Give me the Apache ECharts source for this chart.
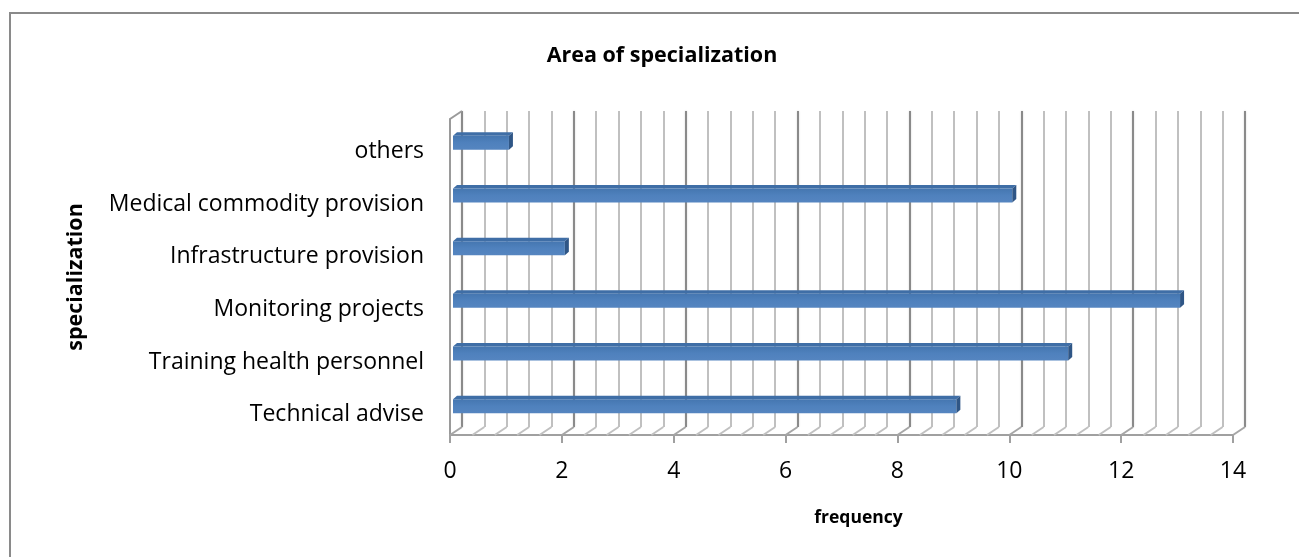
<!DOCTYPE html>
<html>
<head>
<meta charset="utf-8">
<script src="https://cdn.jsdelivr.net/npm/echarts@6/dist/echarts.min.js"></script>
<style>
  html, body { margin: 0; padding: 0; background: #fff; }
  #chart { position: absolute; left: 0; top: 0; width: 1299px; height: 557px; }
  #frame { position: absolute; left: 9px; top: 12px; right: -10px; bottom: -10px;
           border-left: 2px solid #8a8a8a; border-top: 2px solid #8a8a8a; pointer-events: none; }
</style>
</head>
<body>
<div id="chart"></div>
<div id="frame"></div>
<script>
// Categories listed bottom to top, as on the vertical axis
const categories = [
  'Technical advise',
  'Training health personnel',
  'Monitoring projects',
  'Infrastructure provision',
  'Medical commodity provision',
  'others'
];
const frequency = [9, 11, 13, 2, 10, 1];

// Value axis range and tick spacing
const xMin = 0;
const xMax = 14;
const xInterval = 2;
const minorSplit = 5;

const FONT = 'Open Sans';

// depth of the 3D box (back wall offset) and bar offsets
const DEPTH_X = 12, DEPTH_Y = -8;
const BAR_H = 14, BAR_OX = 3, BAR_OY = -2.5, BAR_DX = 4, BAR_DY = -3.5;

const chart = echarts.init(document.getElementById('chart'), null, { renderer: 'canvas' });

// floor slants and top-left wall edge of the 3D box
function renderFrame(params, api) {
  const cs = params.coordSys;
  const bottom = cs.y + cs.height;
  const step = xInterval / minorSplit;
  const children = [];
  const n = Math.round((xMax - xMin) / step);
  for (let k = 0; k <= n; k++) {
    const v = xMin + k * step;
    const x = api.coord([v, 0])[0];
    const major = k % minorSplit === 0;
    children.push({
      type: 'line',
      shape: { x1: x, y1: bottom, x2: x + DEPTH_X, y2: bottom + DEPTH_Y },
      style: { stroke: major ? '#a6a6a6' : '#c0c0c0', lineWidth: 2 }
    });
  }
  children.push({
    type: 'line',
    shape: { x1: cs.x, y1: cs.y, x2: cs.x + DEPTH_X, y2: cs.y + DEPTH_Y },
    style: { stroke: '#9a9a9a', lineWidth: 2 }
  });
  return { type: 'group', children: children };
}

// 3D bar: front face, top face and end face
function renderBar(params, api) {
  const v = api.value(0);
  const i = api.value(1);
  const p0 = api.coord([xMin, i]);
  const p1 = api.coord([v, i]);
  const yTop = p0[1] - BAR_H / 2 + BAR_OY;
  const yBot = yTop + BAR_H;
  const xl = p0[0] + BAR_OX;
  const xr = p1[0] + BAR_OX;
  return {
    type: 'group',
    children: [
      {
        type: 'polygon',
        shape: { points: [[xl, yTop], [xr, yTop], [xr + BAR_DX, yTop + BAR_DY], [xl + BAR_DX, yTop + BAR_DY]] },
        style: { fill: '#3f6ea6' }
      },
      {
        type: 'rect',
        shape: { x: xl, y: yTop, width: xr - xl, height: BAR_H },
        style: {
          fill: new echarts.graphic.LinearGradient(0, 0, 0, 1, [
            { offset: 0, color: '#4576b0' },
            { offset: 0.5, color: '#4f81bd' },
            { offset: 1, color: '#5585c0' }
          ])
        }
      },
      {
        type: 'polygon',
        shape: { points: [[xr, yTop], [xr + BAR_DX, yTop + BAR_DY], [xr + BAR_DX, yBot + BAR_DY], [xr, yBot]] },
        style: { fill: '#2f5686' }
      }
    ]
  };
}

const option = {
  animation: false,
  backgroundColor: '#fff',
  title: {
    text: 'Area of specialization',
    left: 657,
    top: 40,
    textAlign: 'center',
    textStyle: { fontFamily: FONT, fontWeight: 'bold', fontSize: 21.5, color: '#000' }
  },
  grid: [
    { left: 450, right: 66, top: 119, bottom: 122 },
    { left: 450 + DEPTH_X, right: 66 - DEPTH_X, top: 119 + DEPTH_Y, bottom: 122 - DEPTH_Y }
  ],
  xAxis: [
    {
      type: 'value', gridIndex: 0, min: xMin, max: xMax, interval: xInterval,
      axisLine: { show: true, lineStyle: { color: '#a0a0a0', width: 2 } },
      axisTick: { show: true, length: 8, lineStyle: { color: '#a0a0a0', width: 2 } },
      splitLine: { show: false },
      axisLabel: { fontFamily: FONT, fontSize: 23, color: '#000', margin: 25 },
      name: 'frequency',
      nameLocation: 'middle',
      nameGap: 74,
      nameTextStyle: { fontFamily: FONT, fontWeight: 'bold', fontSize: 17.5, color: '#000',
                       padding: [0, 0, 0, 34] }
    },
    {
      type: 'value', gridIndex: 1, min: xMin, max: xMax, interval: xInterval,
      axisLine: { show: false }, axisTick: { show: false }, axisLabel: { show: false },
      minorTick: { show: false, splitNumber: minorSplit },
      splitLine: { show: true, showMinLine: true, showMaxLine: true,
                   lineStyle: { color: '#8a8a8a', width: 2, shadowColor: 'rgba(0,0,0,0.18)', shadowBlur: 2 } },
      minorSplitLine: { show: true, lineStyle: { color: '#c0c0c0', width: 2 } }
    }
  ],
  yAxis: [
    {
      type: 'category', gridIndex: 0, data: categories,
      axisLine: { show: true, lineStyle: { color: '#9a9a9a', width: 2 } },
      axisTick: { show: false },
      axisLabel: { fontFamily: FONT, fontSize: 23, color: '#000', margin: 26,
                   verticalAlign: 'top', lineHeight: 12 },
      name: 'specialization',
      nameLocation: 'middle',
      nameRotate: 90,
      nameGap: 363,
      nameTextStyle: { fontFamily: FONT, fontWeight: 'bold', fontSize: 21.5, color: '#000' }
    },
    {
      type: 'category', gridIndex: 1, data: categories,
      axisLine: { show: false }, axisTick: { show: false }, axisLabel: { show: false },
      splitLine: { show: false }
    }
  ],
  series: [
    {
      type: 'custom',
      name: 'frame',
      xAxisIndex: 0, yAxisIndex: 0,
      renderItem: renderFrame,
      data: [[xMin, 0]],
      silent: true,
      z: 1
    },
    {
      type: 'custom',
      name: 'frequency',
      xAxisIndex: 0, yAxisIndex: 0,
      renderItem: renderBar,
      encode: { x: 0, y: 1 },
      data: frequency.map((v, i) => [v, i]),
      z: 3
    }
  ]
};

chart.setOption(option);
</script>
</body>
</html>
